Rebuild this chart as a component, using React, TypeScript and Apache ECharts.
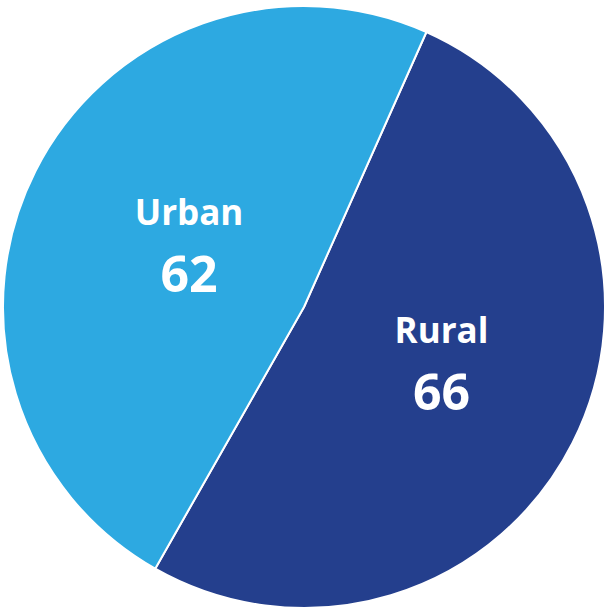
import React, { useEffect, useRef } from "react";
import * as echarts from "echarts";

const categories = ["Rural", "Urban"];
const values = [66, 62];
const colors = ["#243F8D", "#2DA9E1"];
const labelOffsets: [number, number][] = [[0.5, -16], [22, 4.5]];

export default function App() {
  const ref = useRef<HTMLDivElement>(null);
  useEffect(() => {
    if (!ref.current) return;
    const chart = echarts.init(ref.current, undefined, { renderer: "svg" });
    chart.setOption({
      animation: false,
      series: [
        {
          type: "pie",
          center: [304, 307],
          radius: [0, 301],
          startAngle: 66,
          clockwise: true,
          silent: true,
          itemStyle: { borderColor: "#ffffff", borderWidth: 2 },
          label: {
            show: true,
            position: "inside",
            formatter: "{n|{b}}\n{v|{c}}",
            rich: {
              n: {
                color: "#ffffff",
                fontFamily: "Open Sans",
                fontWeight: "bold",
                fontSize: 35,
                lineHeight: 62,
                align: "center",
              },
              v: {
                color: "#ffffff",
                fontFamily: "Open Sans",
                fontWeight: "bold",
                fontSize: 50,
                lineHeight: 62,
                align: "center",
              },
            },
          },
          labelLine: { show: false },
          data: categories.map((c, i) => ({
            name: c,
            value: values[i],
            itemStyle: { color: colors[i] },
            label: { offset: labelOffsets[i] },
          })),
        },
      ],
    });
    return () => chart.dispose();
  }, []);
  return (
    <div
      ref={ref}
      style={{ position: "fixed", left: 0, top: 0, width: 607, height: 608, background: "#ffffff" }}
    />
  );
}
